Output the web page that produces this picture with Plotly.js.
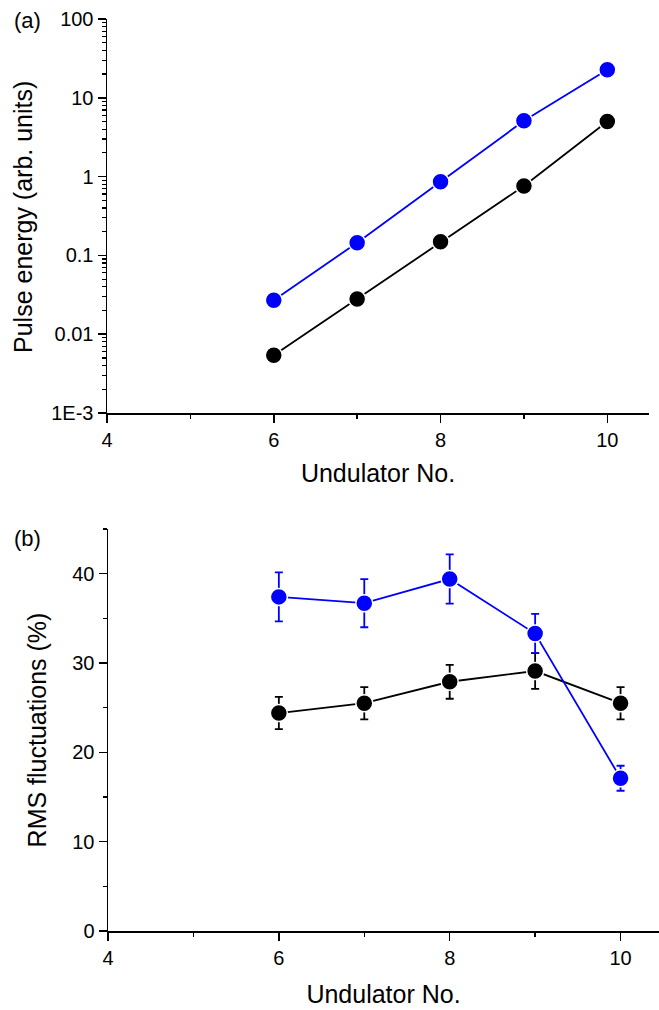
<!DOCTYPE html>
<html><head><meta charset="utf-8">
<script src="https://cdn.plot.ly/plotly-3.0.1.min.js"></script>
<style>body{margin:0;padding:0;background:#fff}#chart{width:659px;height:1010px}</style>
</head><body><div id="chart"></div>
<script>
const undulator = [6, 7, 8, 9, 10];
const energyBlack = [0.0054, 0.028, 0.149, 0.76, 5.0];
const energyBlue = [0.027, 0.145, 0.86, 5.1, 22.7];
const rmsBlack = [24.4, 25.5, 27.9, 29.1, 25.5];
const rmsBlackErr = [1.8, 1.8, 1.9, 2.0, 1.8];
const rmsBlue = [37.4, 36.7, 39.4, 33.3, 17.1];
const rmsBlueErr = [2.75, 2.7, 2.75, 2.2, 1.4];
const logTickVals = [0.001, 0.01, 0.1, 1, 10, 100];
const logTickText = ['1E-3', '0.01', '0.1', '1', '10', '100'];
const xTickVals = [4, 6, 8, 10];

const font = 'Liberation Sans, Arial, sans-serif';
function mk(x, y, color, xa, ya, err) {
  const t = {
    x: x, y: y, xaxis: xa, yaxis: ya, type: 'scatter', mode: 'lines+markers',
    line: {color: color, width: 1.8},
    marker: {color: color, size: 17, line: {color: '#fff', width: 1.5}},
    showlegend: false, hoverinfo: 'skip'
  };
  if (err) t.error_y = {type: 'data', array: err, visible: true, color: color, thickness: 1.8, width: 4};
  return t;
}
const data = [
  mk(undulator, energyBlack, '#000000', 'x', 'y'),
  mk(undulator, energyBlue, '#0000ff', 'x', 'y'),
  mk(undulator, rmsBlack, '#000000', 'x2', 'y2', rmsBlackErr),
  mk(undulator, rmsBlue, '#0000ff', 'x2', 'y2', rmsBlueErr)
];
const titleFont = {family: font, size: 25, color: '#000'};
const axCommon = {
  showgrid: false, zeroline: false, showline: true, linecolor: '#000', linewidth: 1.5,
  ticks: 'outside', ticklen: 8, tickwidth: 1.5, tickcolor: '#000',
  tickfont: {family: font, size: 20, color: '#000'}, automargin: false
};
const layout = {
  width: 659, height: 1010,
  margin: {l: 107, r: 0, t: 0, b: 0},
  paper_bgcolor: '#fff', plot_bgcolor: '#fff',
  xaxis: Object.assign({}, axCommon, {
    domain: [0, 542/552], range: [4, 10.5], anchor: 'y',
    tickvals: xTickVals,
    minor: {dtick: 1, ticks: 'outside', ticklen: 4, tickwidth: 1.5, tickcolor: '#000'},
    title: {text: 'Undulator No.', font: titleFont, standoff: 15}
  }),
  yaxis: Object.assign({}, axCommon, {
    type: 'log', domain: [597/1010, 991/1010], range: [-3, 2], anchor: 'x',
    tickvals: logTickVals, ticktext: logTickText,
    minor: {dtick: 'D1', ticks: 'outside', ticklen: 4, tickwidth: 1.2, tickcolor: '#000'}
  }),
  xaxis2: Object.assign({}, axCommon, {
    domain: [1/552, 1], range: [4, 10.45], anchor: 'y2',
    tickvals: xTickVals,
    minor: {dtick: 1, ticks: 'outside', ticklen: 4, tickwidth: 1.5, tickcolor: '#000'},
    title: {text: 'Undulator No.', font: titleFont, standoff: 18}
  }),
  yaxis2: Object.assign({}, axCommon, {
    domain: [79/1010, 481/1010], range: [0, 45], anchor: 'x2',
    tickvals: [0, 10, 20, 30, 40],
    minor: {dtick: 5, ticks: 'outside', ticklen: 4, tickwidth: 1.5, tickcolor: '#000'},
    title: {text: 'RMS fluctuations (%)', font: titleFont, standoff: 18}
  }),
  annotations: [
    {text: 'Pulse energy (arb. units)', xref: 'paper', yref: 'paper', x: (23-107)/552, y: 1-217/1010, xanchor: 'center', yanchor: 'middle', textangle: -90, showarrow: false, font: titleFont},
    {text: '(a)', xref: 'paper', yref: 'paper', x: (27-107)/552, y: 1-20/1010, xanchor: 'center', yanchor: 'middle', showarrow: false, font: {family: font, size: 22, color: '#000'}},
    {text: '(b)', xref: 'paper', yref: 'paper', x: (27-107)/552, y: 1-538/1010, xanchor: 'center', yanchor: 'middle', showarrow: false, font: {family: font, size: 22, color: '#000'}}
  ]
};
Plotly.newPlot('chart', data, layout, {displayModeBar: false, staticPlot: true});
</script></body></html>
